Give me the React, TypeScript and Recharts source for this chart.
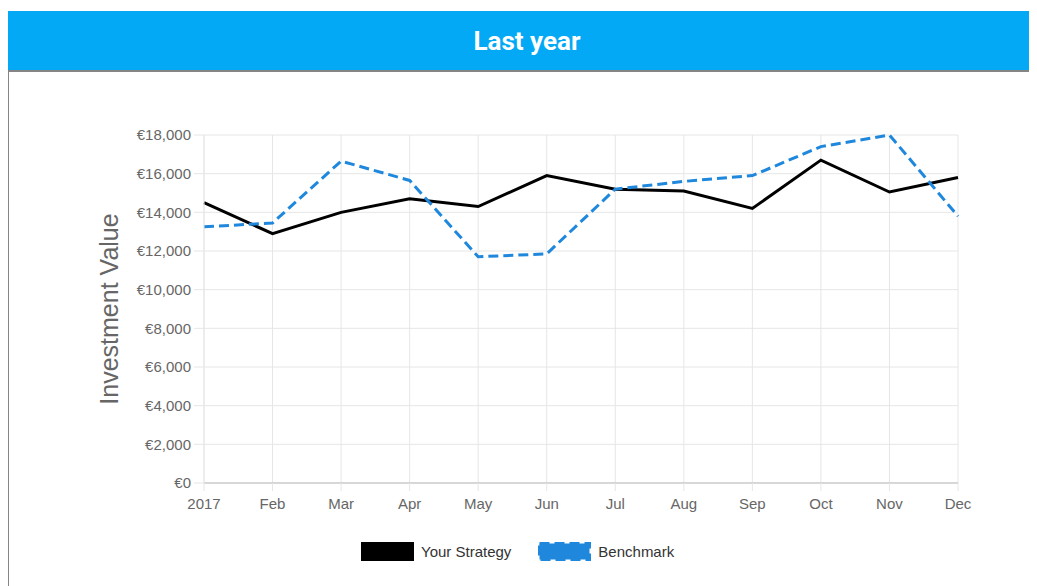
import { LineChart, Line, XAxis, YAxis, CartesianGrid } from "recharts";

const months = ["2017", "Feb", "Mar", "Apr", "May", "Jun", "Jul", "Aug", "Sep", "Oct", "Nov", "Dec"];
const strategy = [14500, 12900, 14000, 14700, 14300, 15900, 15200, 15100, 14200, 16700, 15050, 15800];
const benchmark = [13250, 13450, 16650, 15650, 11700, 11850, 15200, 15600, 15900, 17400, 18000, 13800];
const yTicks = [0, 2000, 4000, 6000, 8000, 10000, 12000, 14000, 16000, 18000];

const data = months.map((m, i) => ({ month: m, strategy: strategy[i], benchmark: benchmark[i] }));

const fmt = (v: number) => "€" + v.toLocaleString("en-US");

const FONT = "'Liberation Sans', Arial, sans-serif";

function LegendBoxes() {
  const items = [
    { label: "Your Strategy", color: "#000000", dashed: false },
    { label: "Benchmark", color: "#1f88dc", dashed: true },
  ];
  return (
    <div style={{ display: "flex", gap: 27, fontFamily: FONT, fontSize: 15, color: "#333" }}>
      {items.map((it) => (
        <div key={it.label} style={{ display: "flex", alignItems: "center", gap: 7 }}>
          <svg width={53} height={19} style={{ display: "block" }}>
            <rect
              x={1.5}
              y={1.5}
              width={50}
              height={16}
              fill={it.color}
              stroke={it.color}
              strokeWidth={3}
              strokeDasharray={it.dashed ? "10 5" : undefined}
            />
          </svg>
          <span>{it.label}</span>
        </div>
      ))}
    </div>
  );
}

export default function App() {
  return (
    <div style={{ position: "relative", width: 1038, height: 580, marginTop: 3 }}>
      <style>{"html,body{overflow:hidden}"}</style>
      <div
        style={{
          position: "absolute",
          left: 0,
          top: 0,
          width: 1100,
          height: 59,
          background: "#03a9f4",
        }}
      />
      <div
        style={{
          position: "relative",
          height: 59,
          color: "#fff",
          fontFamily: "Roboto, sans-serif",
          fontWeight: 700,
          fontSize: 26,
          display: "flex",
          alignItems: "center",
          justifyContent: "center",
        }}
      >
        Last year
      </div>
      <div style={{ borderTop: "2px solid #858585", borderLeft: "2px solid #858585", marginLeft: -1, width: 1100, height: 520 }}>
        <LineChart
          width={1028}
          height={460}
          data={data}
          margin={{ top: 63, right: 79, bottom: 7, left: 0 }}
        >
          <CartesianGrid stroke="#e6e6e6" />
          <XAxis
            dataKey="month"
            stroke="#bbbbbb"
            tickSize={8}
            tickLine={{ stroke: "#e6e6e6" }}
            tick={{ fill: "#666", fontSize: 15, fontFamily: FONT }}
            tickMargin={7}
            height={42}
            interval={0}
          />
          <YAxis
            domain={[0, 18000]}
            ticks={yTicks}
            tickFormatter={fmt}
            width={195}
            stroke="#e6e6e6"
            tickSize={10}
            tickMargin={3}
            tick={{ fill: "#666", fontSize: 15, fontFamily: FONT }}
            label={{
              content: ({ viewBox }: any) => (
                <text
                  x={viewBox.x + 100}
                  y={viewBox.y + viewBox.height / 2}
                  transform={`rotate(-90, ${viewBox.x + 100}, ${viewBox.y + viewBox.height / 2})`}
                  textAnchor="middle"
                  dominantBaseline="central"
                  fill="#666"
                  fontSize={25}
                  fontFamily={FONT}
                >
                  Investment Value
                </text>
              ),
            }}
          />
          <Line
            type="linear"
            dataKey="strategy"
            name="Your Strategy"
            stroke="#000"
            strokeWidth={3}
            dot={false}
            isAnimationActive={false}
          />
          <Line
            type="linear"
            dataKey="benchmark"
            name="Benchmark"
            stroke="#1f88dc"
            strokeWidth={3}
            strokeDasharray="10 5"
            dot={false}
            isAnimationActive={false}
          />
        </LineChart>
      </div>
      <div style={{ position: "absolute", left: 353, top: 531 }}>
        <LegendBoxes />
      </div>
    </div>
  );
}
